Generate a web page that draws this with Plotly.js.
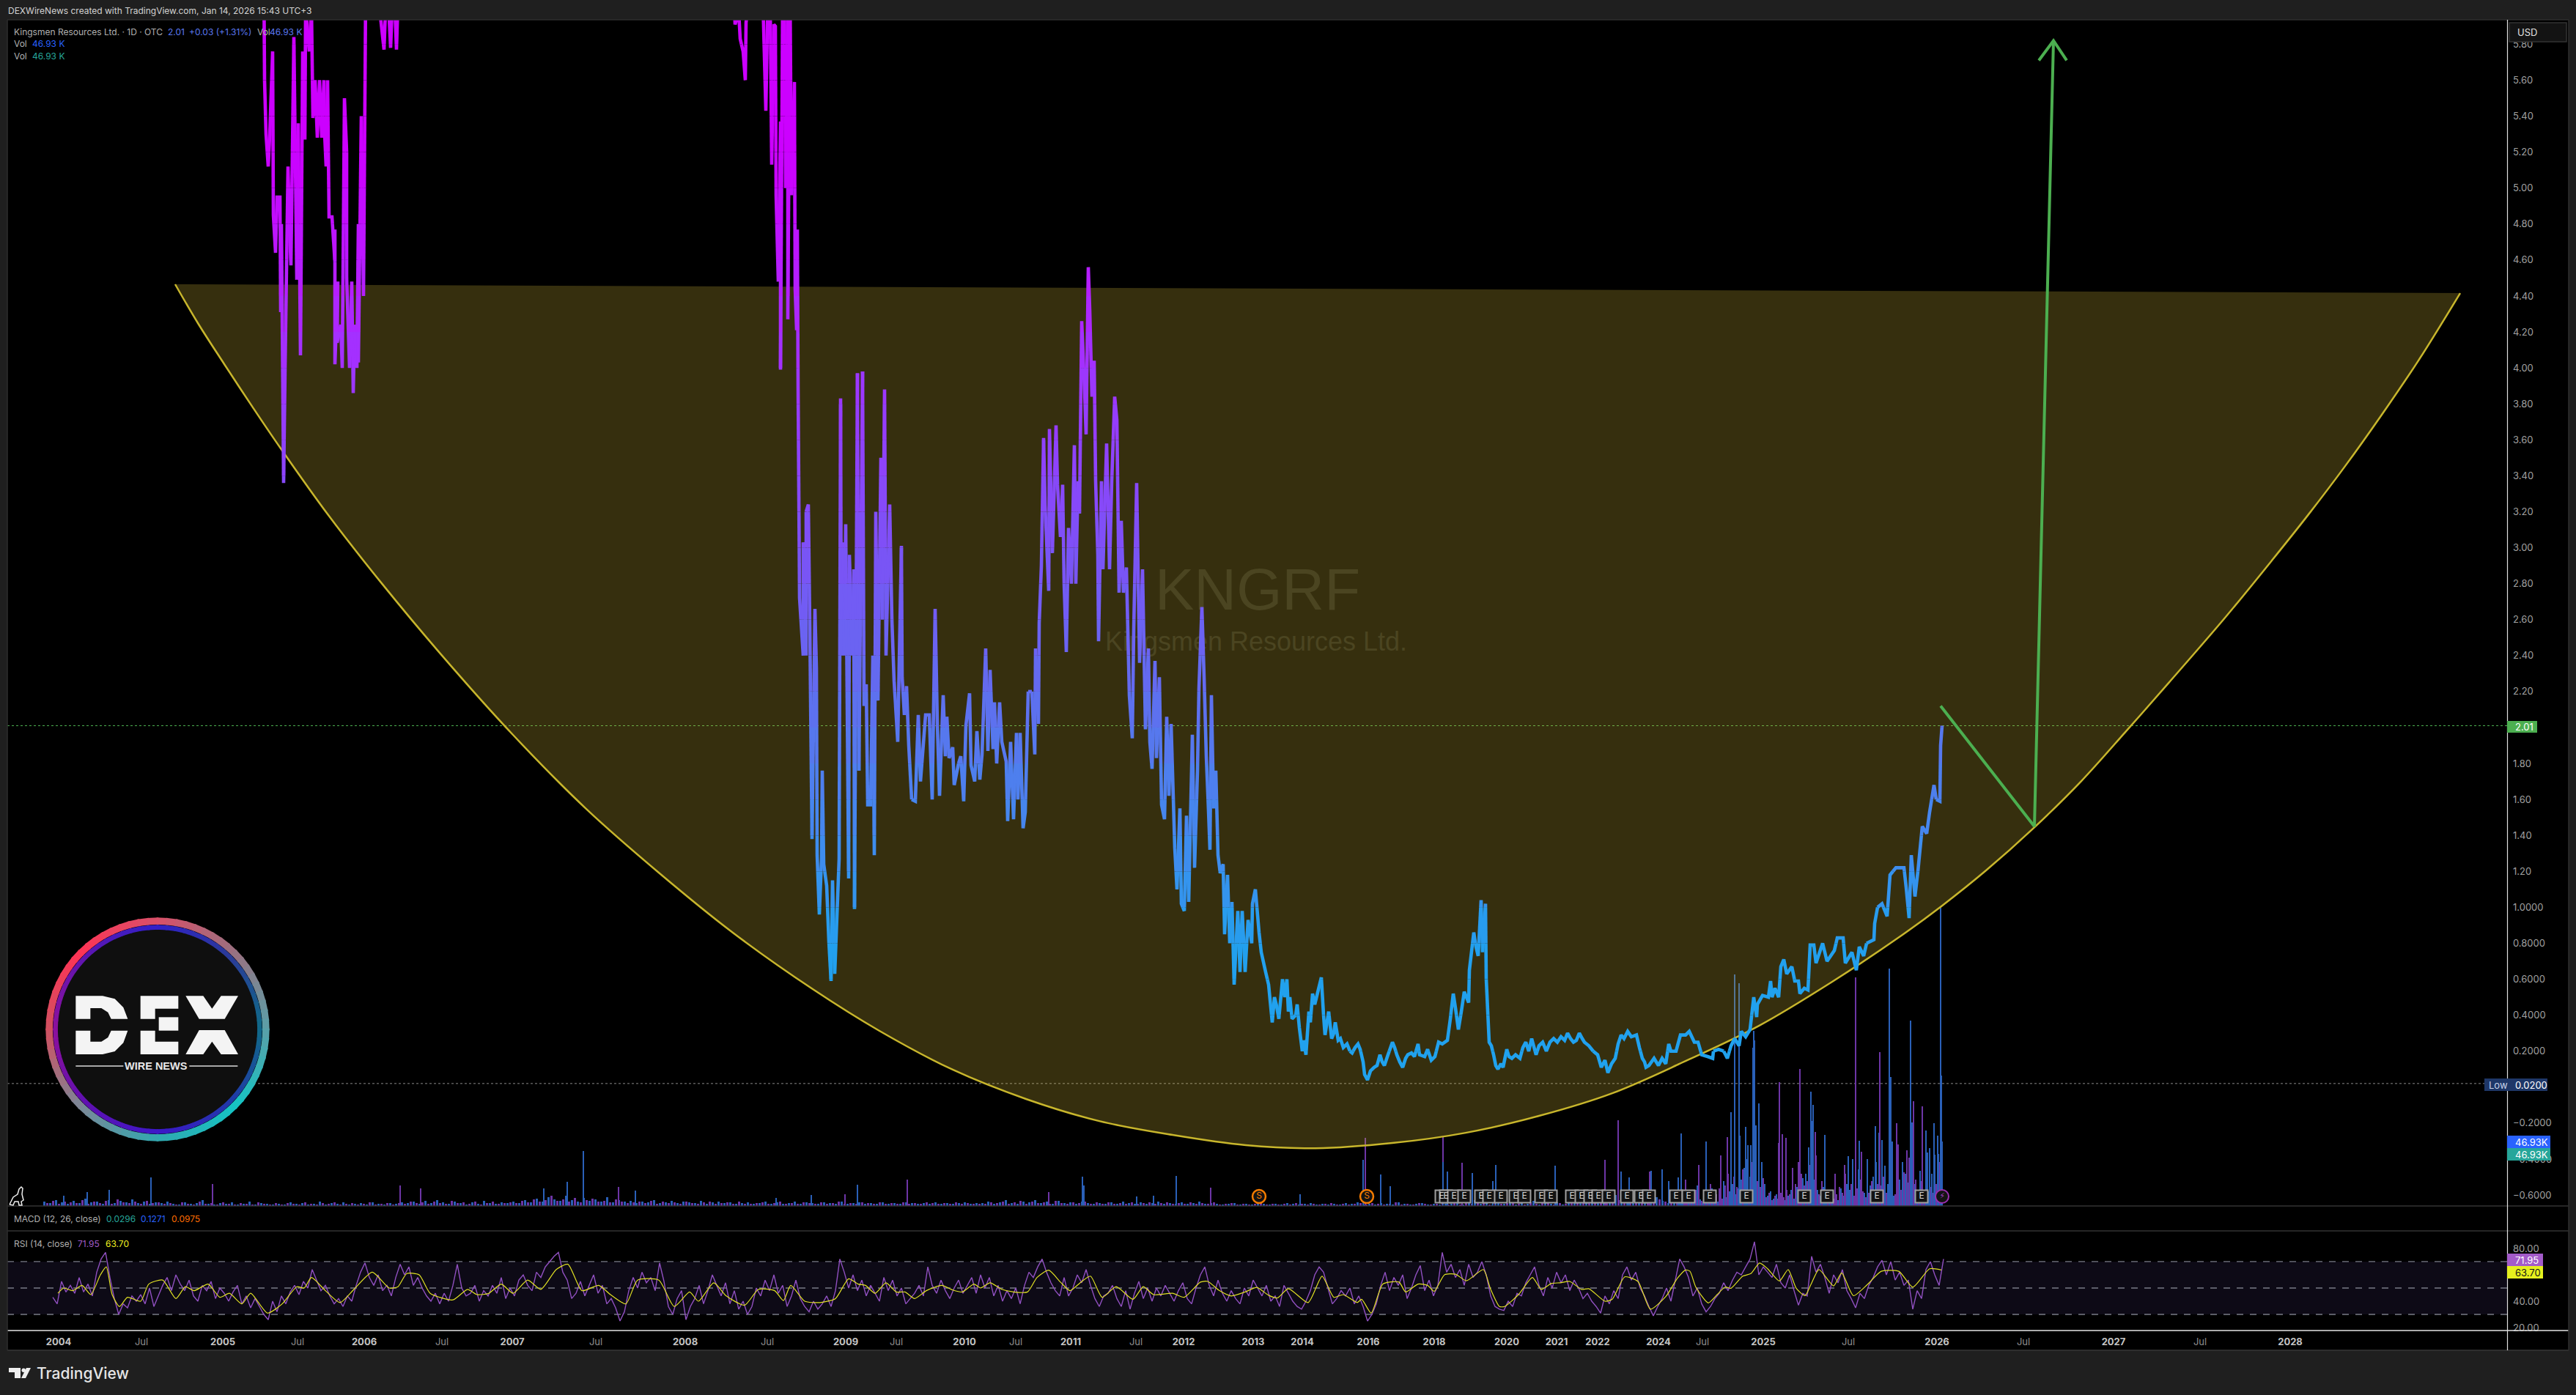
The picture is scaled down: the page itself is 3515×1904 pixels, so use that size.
<!DOCTYPE html>
<html><head><meta charset="utf-8"><script src="https://cdn.plot.ly/plotly-3.0.1.min.js"></script>
<style>html,body{margin:0;padding:0;background:#1f1f1f}#c{width:3515px;height:1904px}</style></head>
<body><div id="c"></div><script>
// ---------- values. Bar positions are ordinal session numbers on the compressed time axis.
const timeTickBars=[80,193,304,406,497,603,699,813,935,1047,1154,1223,1316,1386,1461,1550,1615,1710,1777,1867,1957,2056,2124,2180,2263,2323,2406,2522,2643,2761,2884,3002,3125];
const timeTickLabels=['2004','Jul','2005','Jul','2006','Jul','2007','Jul','2008','Jul','2009','Jul','2010','Jul','2011','Jul','2012','2013','2014','2016','2018','2020','2021','2022','2024','Jul','2025','Jul','2026','Jul','2027','Jul','2028'];
const priceTicks=[5.8,5.6,5.4,5.2,5,4.8,4.6,4.4,4.2,4,3.8,3.6,3.4,3.2,3,2.8,2.6,2.4,2.2,2,1.8,1.6,1.4,1.2,1,0.8,0.6,0.4,0.2,0,-0.2,-0.4,-0.6];
const priceTickLabels=['5.80','5.60','5.40','5.20','5.00','4.80','4.60','4.40','4.20','4.00','3.80','3.60','3.40','3.20','3.00','2.80','2.60','2.40','2.20','2.00','1.80','1.60','1.40','1.20','1.0000','0.8000','0.6000','0.4000','0.2000','0.0000','−0.2000','−0.4000','−0.6000'];
const rsiTicks=[80,60,40,20];
const lastClose=2.01, lowPrice=0.02;
const arcBars=[239,270,306,345,383,448,520,600,700,800,900,1000,1109,1200,1300,1400,1500,1600,1700,1795,1900,2000,2100,2200,2300,2400,2500,2590,2650,2710,2775,2840,2901,2960,3037,3100,3150,3200,3250,3300,3357];
const arcPrice=[4.465,4.249,4.021,3.78,3.552,3.181,2.806,2.415,1.959,1.547,1.189,0.859,0.545,0.313,0.097,-0.066,-0.189,-0.266,-0.323,-0.34,-0.311,-0.254,-0.16,-0.034,0.145,0.341,0.586,0.83,1.009,1.205,1.441,1.702,1.979,2.252,2.615,2.929,3.185,3.454,3.74,4.041,4.416];
const arrowBars=[2648,2776,2802], arrowPrice=[2.12,1.45,5.82];
const arrowHeadBars=[2782,2802,2820], arrowHeadPrice=[5.71,5.82,5.71];
const close2004=[[75,7],[355,7],[360,6.2],[361,5.6],[363,5.3],[366,5.12],[368,5.29],[372,5.76],[373,4.85],[376,4.64],[378,4.95],[382,4.95],[383,4.31],[384,4.8],[387,3.36],[389,4],[393,5.12],[395,4.79],[397,4.57],[401,5.84],[405,4.49],[407,5.36],[410,4.07],[413,5.76],[416,5.27],[417,6],[422,5.76],[425,6],[427,5.39],[430,5.6],[433,5.28],[436,5.6],[439,5.28],[442,5.6],[443,5.3],[445,5.12],[447,5.6],[449,4.84],[453,4.84],[457,4.59],[457,4.77],[457,4.02],[461,4.48],[460,4.14],[465,4.24],[467,4],[470,5.5],[473,5.2],[473,4.5],[477,4],[480,4.48],[482,3.86],[484,4.24],[487,4],[489,4.8],[489,4.03],[493,5.4],[496,4.4],[499,6.1],[510,6.3],[524,5.77],[528,6.2],[533,5.78],[537,6.2],[541,5.77],[545,6.3],[1000,6.3]];
const close2008=[[1003,5.91],[1008,5.98],[1010,5.83],[1014,5.76],[1017,5.6],[1018,5.92],[1020,6],[1040,6.2],[1045,5.43],[1048,6.1],[1051,6],[1053,5.13],[1056,5.91],[1058,5.9],[1059,4.96],[1062,4.48],[1065,5.37],[1065,3.99],[1068,6.1],[1070,6.2],[1072,5],[1075,6],[1075,4.27],[1078,6.1],[1080,4.96],[1084,5.59],[1085,4.44],[1087,4.21],[1088,4.77],[1089,3.9]];
const close2009=[[1091,2.72],[1096,2.4],[1096,3.03],[1100,2.4],[1100,3.2],[1103,3.24],[1105,2.57],[1108,1.38],[1112,2.66],[1114,2.33],[1115,1.29],[1118,0.96],[1121,1.27],[1122,1.76],[1124,1.24],[1128,1.12],[1131,0.81],[1134,0.59],[1136,1.15],[1139,0.63],[1142,0.95],[1145,1.27],[1147,3.83],[1148,2.4],[1151,3.03],[1152,2.4],[1154,3.13],[1158,1.16],[1159,2.96],[1163,2.4],[1165,2.88],[1166,0.99],[1170,3.97],[1172,1.76],[1177,3.98],[1179,2.12],[1182,2.24],[1184,1.57],[1188,1.57],[1191,2.4],[1193,1.29],[1195,3.2],[1198,2.15],[1202,3.5],[1204,2.6],[1207,3.88],[1209,2.4],[1214,3.24],[1217,2.6],[1220,2.26],[1225,1.92],[1230,3.01],[1231,2.28],[1234,2.07],[1237,2.23],[1240,1.9],[1244,1.6],[1249,1.59],[1253,2.07],[1256,1.7],[1263,2.07],[1268,2.07],[1272,1.6],[1276,2.66],[1279,2.02],[1282,1.62],[1287,2.18],[1290,1.84],[1292,2.06],[1295,1.83],[1300,1.89],[1302,1.68],[1308,1.8],[1311,1.84],[1315,1.59],[1318,2.01],[1323,2.19],[1325,1.79],[1330,1.7],[1333,1.98],[1337,1.71],[1340,1.85],[1345,2.44],[1348,1.87],[1351,2.32],[1355,1.88],[1357,2.14],[1360,1.8],[1364,2.14],[1367,1.92],[1373,1.81],[1375,1.48],[1379,1.92],[1383,1.49],[1387,1.97],[1389,1.6],[1392,1.97],[1396,1.44],[1399,1.53],[1403,2.2],[1408,2.2],[1412,1.85],[1413,2.44],[1417,2.02],[1418,2.58]];
const close2011=[[1421,2.9],[1424,3.61],[1426,3.24],[1431,2.76],[1432,3.66],[1436,2.97],[1441,3.68],[1443,3.35],[1447,3.06],[1450,3.35],[1452,2.8],[1455,2.42],[1458,3.11],[1462,2.8],[1466,3.57],[1468,2.8],[1471,3.37],[1473,3.19],[1476,4.26],[1480,3.87],[1482,3.63],[1485,4.56],[1487,4.32],[1490,3.84],[1493,4.04],[1495,3.37],[1498,2.96],[1499,2.48],[1503,3.37],[1505,2.88],[1510,3.58],[1514,2.88],[1517,3.37],[1521,3.84],[1524,3.71],[1527,2.75],[1530,3.15],[1533,2.75],[1537,2.89],[1541,2.18],[1545,1.94],[1547,2.54],[1551,3.36],[1555,2.36],[1559,2.88],[1563,1.99],[1567,2.44],[1569,1.92],[1572,1.77],[1576,2.37],[1578,1.83],[1582,2.28],[1585,1.57],[1589,1.49],[1592,2.06],[1595,1.62],[1598,2.02],[1603,1.33],[1606,1.1],[1610,1.55],[1612,1.02],[1616,0.98],[1619,1.51],[1622,1.03],[1627,1.96],[1630,1.22],[1634,1.76],[1636,2.22],[1640,2.67],[1643,2.28],[1646,1.84],[1649,1.54],[1651,1.32],[1653,2.18],[1656,1.55],[1659,1.76],[1662,1.29],[1665,1.19],[1669,1.24],[1671,0.85],[1675,1.18],[1678,0.8],[1681,1.03],[1684,0.57],[1689,0.98],[1692,0.64],[1695,0.98],[1699,0.64],[1703,0.93],[1708,0.8],[1709,1.02],[1713,1.1],[1718,0.86],[1721,0.75],[1727,0.64],[1731,0.57]];
const close2014=[[1736,0.36],[1739,0.5],[1742,0.45],[1745,0.38],[1750,0.6],[1753,0.5],[1756,0.6],[1758,0.42],[1760,0.5],[1763,0.38],[1768,0.4],[1770,0.46],[1773,0.33],[1777,0.2],[1779,0.26],[1782,0.18],[1786,0.42],[1788,0.36],[1791,0.52],[1794,0.46],[1797,0.51],[1803,0.61],[1806,0.4],[1808,0.29],[1813,0.42],[1817,0.27],[1820,0.3],[1822,0.36],[1826,0.26],[1829,0.27],[1833,0.22],[1838,0.24],[1842,0.2],[1845,0.19],[1849,0.22],[1853,0.24],[1856,0.21],[1860,0.14],[1862,0.07],[1866,0.04],[1870,0.09],[1875,0.11],[1879,0.12],[1883,0.18],[1886,0.14],[1889,0.12],[1894,0.18],[1900,0.25],[1903,0.22],[1906,0.18],[1910,0.14],[1914,0.11],[1918,0.16],[1921,0.18],[1926,0.19],[1930,0.17],[1935,0.24],[1937,0.18],[1944,0.17],[1948,0.21],[1953,0.15],[1958,0.17],[1963,0.25],[1968,0.24],[1975,0.26],[1979,0.38],[1983,0.52],[1986,0.44],[1990,0.32],[1994,0.42],[1998,0.53],[2004,0.47],[2005,0.65],[2011,0.86],[2014,0.78],[2017,0.73],[2021,1.04],[2023,0.75],[2027,1.02],[2028,0.6],[2032,0.25],[2035,0.23],[2038,0.18],[2041,0.12],[2044,0.1],[2048,0.13],[2051,0.11],[2056,0.21],[2059,0.17],[2063,0.16],[2068,0.18],[2074,0.16],[2078,0.22],[2082,0.25],[2086,0.2],[2090,0.27],[2096,0.18],[2100,0.23],[2105,0.25],[2110,0.2],[2115,0.25],[2120,0.27],[2125,0.25],[2130,0.28],[2135,0.26],[2139,0.3],[2143,0.27],[2147,0.25],[2151,0.26],[2155,0.3],[2159,0.27],[2162,0.25],[2168,0.23],[2174,0.2],[2180,0.18],[2185,0.11],[2190,0.15],[2194,0.08],[2199,0.13],[2204,0.16],[2208,0.24],[2212,0.29],[2216,0.27],[2221,0.31],[2226,0.28],[2233,0.29],[2237,0.22],[2241,0.16],[2244,0.14],[2246,0.11]];
const close2024=[[2250,0.12],[2257,0.16],[2263,0.12],[2268,0.16],[2273,0.13],[2277,0.24],[2280,0.2],[2287,0.2],[2293,0.29],[2300,0.29],[2305,0.31],[2312,0.25],[2317,0.25],[2322,0.18],[2330,0.17],[2337,0.16],[2338,0.2],[2345,0.21],[2352,0.2],[2357,0.16],[2362,0.23],[2367,0.27],[2373,0.23],[2376,0.31],[2382,0.28],[2388,0.32],[2393,0.5],[2397,0.39],[2398,0.46],[2405,0.51],[2413,0.5],[2416,0.59],[2418,0.5],[2422,0.55],[2427,0.5],[2430,0.67],[2434,0.71],[2438,0.63],[2445,0.67],[2449,0.59],[2454,0.59],[2456,0.52],[2462,0.55],[2467,0.54],[2470,0.79],[2475,0.79],[2478,0.69],[2487,0.8],[2493,0.7],[2503,0.76],[2507,0.83],[2515,0.83],[2518,0.69],[2527,0.75],[2533,0.65],[2537,0.78],[2543,0.73],[2547,0.8],[2557,0.82],[2558,0.91],[2562,1],[2568,1.02],[2575,0.95],[2579,1.18],[2587,1.22],[2598,1.22],[2601,1.11],[2605,0.94],[2608,1.29],[2613,1.06],[2617,1.2],[2623,1.45],[2629,1.41],[2633,1.53],[2639,1.68],[2642,1.6],[2647,1.59],[2648,1.9],[2650,2.01]];
const rsiClose=[43,38,55,47,52,46,58,47,53,44, 62,72,77,58,42,30,38,35,44,40, 45,38,50,36,44,52,58,48,60,53, 48,56,44,40,52,48,55,42,50,46, 40,47,52,38,44,35,42,36,30,26, 40,32,44,38,47,52,45,55,50,64, 56,48,52,44,38,42,36,44,40,52, 62,69,58,52,60,48,52,44,58,68, 60,66,52,58,50,44,40,46,38,46, 40,52,68,50,44,46,52,40,48,44, 52,46,58,42,50,44,56,60,52,48, 62,58,66,70,74,77,62,56,42,46, 55,44,52,60,46,52,38,42,35,25, 32,48,58,50,62,54,58,48,69,55, 36,30,42,48,26,36,42,52,38,48, 60,52,44,54,38,48,34,40,30,36, 50,44,56,48,60,46,52,36,44,56, 42,36,32,40,34,38,44,36,48,72, 62,50,60,48,56,44,52,46,40,58, 48,56,44,50,38,42,46,52,44,66, 52,46,56,48,42,50,56,46,52,58, 46,60,50,58,44,52,40,48,42,50, 38,52,62,58,66,72,62,54,48,44, 58,44,50,60,54,64,52,42,36,44, 46,52,42,36,48,34,46,55,42,50, 40,50,44,52,46,40,48,54,42,38, 50,60,66,52,44,56,46,40,48,42, 38,50,44,56,50,44,52,40,44,36, 52,46,40,36,34,40,48,60,66,62, 50,38,42,48,44,50,38,44,36,25, 30,38,52,62,48,58,52,60,42,50, 60,67,48,56,44,52,77,62,68,58, 64,52,68,58,62,70,60,44,36,34, 33,40,36,46,44,54,60,66,52,44, 58,50,62,54,60,48,56,50,42,46, 40,36,31,44,38,48,42,60,66,56, 62,50,44,36,29,36,42,50,40,56, 72,66,58,44,50,38,32,36,42,46, 54,48,56,62,60,66,72,85,60,66, 62,58,68,54,50,60,48,37,46,44, 74,62,68,58,46,60,54,64,48,42, 35,46,42,52,58,66,71,60,70,56, 62,52,56,34,48,42,64,70,60,52, 71.95];
const rsiFirstBar=72, rsiBarStep=6;
const rsiMa=[[79,46],[87,50],[99,48],[112,52],[124,45],[137,60],[145,66],[153,45],[163,36],[174,43],[192,40],[203,53],[222,56],[240,42],[253,51],[265,48],[284,53],[300,43],[313,46],[330,38],[342,46],[365,31],[385,38],[405,51],[415,50],[425,58],[444,48],[464,39],[483,49],[508,62],[531,50],[543,51],[555,61],[572,60],[587,46],[618,41],[638,49],[651,45],[667,46],[684,53],[700,46],[720,56],[738,49],[759,64],[775,68],[794,48],[817,52],[833,45],[854,38],[870,56],[899,56],[920,36],[941,47],[953,40],[974,54],[991,44],[1016,37],[1035,49],[1057,48],[1069,40.5],[1079,52],[1098,40],[1119,39],[1140,42],[1158,57],[1171,53],[1181,52],[1194,46],[1209,54],[1223,47],[1235,47],[1248,42],[1264,48],[1285,52],[1300,48.5],[1313,47],[1329,53],[1338,50],[1351,54],[1367,49],[1383,47],[1402,47],[1415,58],[1431,63.5],[1447,54.5],[1460,48],[1475,54.5],[1488,59],[1504,43],[1523,51],[1546,41.5],[1560,51],[1574,45],[1600,46],[1616,43],[1638,54.5],[1648,55],[1664,48],[1680,44],[1699,47],[1715,50.5],[1731,44.5],[1743,42.5],[1758,49.5],[1785,39],[1804,59],[1820,43],[1833,45],[1852,39],[1858,41.5],[1871,31],[1887,53],[1909,54.5],[1918,47],[1935,53],[1948,52],[1957,47.5],[1971,60],[1986,60.5],[2001,55.5],[2024,64],[2034,49],[2046,36],[2053,36],[2072,45],[2091,58],[2103,49],[2117,53.5],[2129,54],[2142,55],[2158,49],[2168,49.5],[2190,40],[2200,41.5],[2217,58.5],[2235,55],[2252,34],[2273,43.5],[2289,57.5],[2300,63.7],[2306,62.7],[2314,50.7],[2331,38.7],[2343,45],[2354,50.7],[2362,49.8],[2378,59],[2389,60.9],[2401,68.9],[2412,64.6],[2428,55.3],[2440,64],[2451,49.8],[2463,44.2],[2471,52.6],[2482,64],[2502,51.6],[2513,61.4],[2529,44.2],[2548,52.6],[2567,62.7],[2591,62.7],[2610,50.7],[2633,64.6],[2649,63.7]];
const volFirstBar=60, volBarStep=8;
const volBlueLow=[6,4,8,5,3,7,4,10,5,6,3,8,4,7,5,9,4,6,3,5, 4,6,3,2,5,3,4,8,3,2,4,3,5,2,3,6,2,4,3,2, 3,2,5,3,4,2,3,6,2,4,3,5,2,3,4,2,5,3,2,4, 3,5,4,6,3,7,4,8,5,3,6,4,2,5,3,7,4,3,5,4, 6,4,8,5,10,6,12,9,7,14,8,6,11,7,9,6,12,5,8,6, 7,4,6,5,8,4,5,7,4,6,5,4,7,3,5,6,4,5,3,4, 5,3,4,6,3,5,3,4,6,3,5,4,3,5,4,3,6,3,4,5, 3,4,3,5,3,4,3,5,4,3,4,3,5,3,4,3,4,5,3,4, 4,6,3,5,8,4,3,6,5,8,4,6,3,7,4,5,3,6,4,3, 4,3,5,3,6,4,3,5,3,4,6,3,4,3,5,3,4,6,3,4, 3,2,3,4,2,3,2,4,3,2,3,2,4,3,2,3,4,2,3,2, 3,2,4,3,5,2,3,2,4,3,2,5,3,2,3,4,2,3,2,3, 3,5,2,4,8,3,5,2,6,3,4,2,5,3,7,2,4,3,5,2, 6,4,9,5,12,6,4,8,15,5,7,4,10,6,5,12,7,4,9,6];
const volPurpleLow=[4,7,3,6,5,4,8,3,6,4,7,3,9,5,4,6,3,7,4,5, 3,4,2,5,3,2,6,3,4,2,5,3,2,4,3,2,5,3,2,4, 2,4,3,2,5,3,2,4,3,5,2,3,4,2,3,5,2,3,4,2, 4,3,6,4,5,3,6,4,3,7,4,5,3,6,2,4,6,3,4,5, 4,7,5,9,6,8,14,7,9,6,11,5,8,10,6,7,5,9,6,4, 5,6,4,7,3,6,4,5,3,6,4,3,5,6,3,4,5,3,6,3, 3,4,5,3,4,6,3,4,3,5,4,3,5,3,4,6,3,4,3,5, 4,3,5,3,4,3,5,3,4,3,5,4,3,4,3,5,3,4,3,3, 3,5,4,6,3,5,7,3,6,4,5,3,7,4,3,5,4,6,3,5, 3,5,3,4,3,5,3,4,5,3,4,5,3,4,3,5,3,4,3,5, 2,3,4,2,3,2,3,4,2,3,2,3,2,4,3,2,3,2,3,4, 2,3,2,3,4,2,4,3,2,3,5,2,3,2,4,3,2,3,4,2, 4,2,5,3,4,6,2,5,3,4,8,3,2,5,3,4,6,2,4,3, 4,8,5,7,4,10,6,5,8,6,14,5,8,6,4,9,6,12,5,8];
const denseFirstBar=2292, denseBarStep=4;
const volBlueDense=[8,14,22,10,6,12,28,9,5,14,8,24,11,6,18,34,12,20,30,16,24,36,52,64,40,90,110,140,60,30,14,20,10,16,6,12,8,14,22,10,26,16,38,44,80,60,36,22,14,26,18,12,20,10,8,24,14,30,22,18,40,50,36,18,10,28,40,60,100,90,55,30,20,14,24,36,60,44,32,18,30,22,48,14,30,20,44,70,96,64];
const volPurpleDense=[6,10,18,8,12,22,14,7,18,10,30,8,16,24,10,28,44,18,40,26,30,50,36,22,60,48,34,26,38,12,18,8,14,10,18,12,22,16,52,30,60,44,28,34,56,24,36,16,34,20,14,22,10,16,26,18,44,16,30,14,24,36,20,12,18,34,22,30,28,40,18,22,34,16,30,22,46,36,22,14,36,18,34,22,40,26,18,30,60,40];
const volBlueSpikes=[[87,14],[119,19],[149,22],[206,39],[742,24],[774,33],[796,75],[867,21],[1059,11],[1107,15],[1170,29],[1477,40],[1479,28],[1605,41],[1551,13],[1574,14],[1774,16],[1860,63],[1884,43],[1897,27],[1975,47],[1969,60],[2009,45],[2041,56],[2037,34],[2122,55],[2212,47],[2223,39],[2253,48],[2268,50],[2277,34],[2290,39],[2294,99],[2328,88],[2362,128],[2367,316],[2373,304],[2374,96],[2382,108],[2385,83],[2389,83],[2392,216],[2393,239],[2394,226],[2471,156],[2472,116],[2474,138],[2490,97],[2522,68],[2528,64],[2537,89],[2548,64],[2559,109],[2578,324],[2580,176],[2582,88],[2607,253],[2609,114],[2639,113],[2628,103],[2648,408],[2649,178],[2650,88],[2645,71],[2633,79],[2630,73]];
const volPurpleSpikes=[[290,30],[546,28],[574,24],[844,26],[1153,16],[1238,36],[1431,19],[1652,25],[1863,93],[1969,95],[1995,59],[2190,63],[2208,117],[2251,47],[2300,36],[2318,56],[2348,69],[2357,94],[2394,119],[2427,86],[2428,169],[2432,98],[2437,93],[2456,187],[2477,101],[2478,69],[2504,44],[2517,56],[2532,312],[2540,74],[2565,210],[2588,113],[2590,84],[2602,76],[2605,66],[2611,143],[2623,136],[2647,48]];
const earningsBars=[1967,1973,1984,1998,2021,2032,2048,2068,2080,2103,2116,2145,2158,2170,2181,2195,2220,2239,2250,2287,2304,2333,2383,2462,2493,2561,2622];
const splitBars=[1718,1865];
const dividendBars=[2650];

// ---------- helpers
const W=3515,H=1904;
const fx=x=>x/W, fy=y=>1-y/H;
const priceBandStops=[[-1,'#1ea4ee'],[0.8,'#22a0ee'],[1.2,'#3a90ee'],[2,'#5a74ee'],[3,'#7c52f6'],[4,'#a034ff'],[4.5,'#b51eff'],[5.2,'#cc00ff'],[7,'#cc00ff']];
function hex(c){return [1,3,5].map(i=>parseInt(c.substr(i,2),16));}
function lerpStops(stops,v){for(let i=1;i<stops.length;i++){if(v<=stops[i][0]){const a=stops[i-1],b=stops[i],t=(v-a[0])/(b[0]-a[0]),A=hex(a[1]),B=hex(b[1]);return 'rgb('+A.map((u,k)=>Math.round(u+(B[k]-u)*t)).join(',')+')';}}return stops[stops.length-1][1];}
const bandH=0.2;
const allClose=[...close2004,...close2008,...close2009,...close2011,...close2014,...close2024];
const bands={};
function addPiece(k,x0,y0,x1,y1){const b=bands[k]||(bands[k]={x:[],y:[]});const n=b.x.length;if(n&&b.x[n-1]===x0&&b.y[n-1]===y0){b.x.push(x1);b.y.push(y1);}else{if(n){b.x.push(null);b.y.push(null);}b.x.push(x0,x1);b.y.push(y0,y1);}}
for(let i=1;i<allClose.length;i++){const [x0,y0]=allClose[i-1],[x1,y1]=allClose[i];const ts=[0];const lo=Math.min(y0,y1),hi=Math.max(y0,y1);for(let e=Math.ceil(lo/bandH)*bandH;e<hi;e+=bandH){if(e>lo)ts.push((e-y0)/(y1-y0));}ts.push(1);ts.sort((a,b)=>a-b);for(let j=1;j<ts.length;j++){const a=ts[j-1],c=ts[j];const xa=x0+(x1-x0)*a,ya=y0+(y1-y0)*a,xc=x0+(x1-x0)*c,yc=y0+(y1-y0)*c;addPiece(Math.floor(((ya+yc)/2)/bandH),xa,ya,xc,yc);}}
const lowX=(arr,off)=>arr.map((_,i)=>volFirstBar+off+i*volBarStep);
const dX=(arr,off)=>arr.map((_,i)=>denseFirstBar+off+i*denseBarStep);
const BLUE='#2a60b8',PURP='#6d35a6';
const bar=(x,y,c,w)=>({type:'bar',x,y,width:w,marker:{color:c,line:{width:0}},yaxis:'y',hoverinfo:'skip',showlegend:false});
const traces=[
 bar(lowX(volPurpleLow,4),volPurpleLow,PURP,3),
 bar(lowX(volBlueLow,0),volBlueLow,BLUE,3),
 bar(dX(volPurpleDense,2),volPurpleDense,PURP,2),
 bar(dX(volBlueDense,0),volBlueDense,BLUE,2),
 bar(volPurpleSpikes.map(d=>d[0]),volPurpleSpikes.map(d=>d[1]),PURP,1.3),
 bar(volBlueSpikes.map(d=>d[0]),volBlueSpikes.map(d=>d[1]),BLUE,1.3),
 {type:'scatter',mode:'markers+text',x:earningsBars,y:earningsBars.map(()=>13),text:earningsBars.map(()=>'E'),textposition:'middle center',textfont:{family:'Inter',size:12,color:'#d6d6d6'},marker:{symbol:'square',size:17,color:'#131313',line:{color:'#a0a0a0',width:2}},yaxis:'y',hoverinfo:'skip',cliponaxis:false},
 {type:'scatter',mode:'markers+text',x:splitBars,y:splitBars.map(()=>13),text:splitBars.map(()=>'S'),textposition:'middle center',textfont:{family:'Inter',size:12,color:'#f57c00'},marker:{symbol:'circle',size:18,color:'#131313',line:{color:'#f57c00',width:2.5}},yaxis:'y',hoverinfo:'skip'},
 {type:'scatter',mode:'markers+text',x:dividendBars,y:dividendBars.map(()=>13),text:dividendBars.map(()=>'⚡'),textposition:'middle center',textfont:{family:'DejaVu Sans',size:11,color:'#a040c0'},marker:{symbol:'circle',size:18,color:'#131313',line:{color:'#9c30b0',width:2}},yaxis:'y',hoverinfo:'skip'},
 {type:'scatter',mode:'lines',x:arcBars,y:arcPrice,yaxis:'y2',fill:'toself',fillcolor:'rgba(204,176,54,0.265)',line:{color:'#c8b62c',width:2.5,shape:'spline',smoothing:1},hoverinfo:'skip'},
 {type:'scatter',mode:'text',x:[1716],y:[2.737],text:['KNGRF'],textposition:'middle center',textfont:{family:'Liberation Sans',size:80,color:'#4b4521'},yaxis:'y2',hoverinfo:'skip'},
 {type:'scatter',mode:'text',x:[1714],y:[2.464],text:['Kingsmen Resources Ltd.'],textposition:'middle center',textfont:{family:'Liberation Sans',size:36,color:'#4b4521'},yaxis:'y2',hoverinfo:'skip'},
];
Object.keys(bands).map(Number).sort((a,b)=>a-b).forEach(k=>{traces.push({type:'scatter',mode:'lines',x:bands[k].x,y:bands[k].y,yaxis:'y2',connectgaps:false,line:{color:lerpStops(priceBandStops,(k+0.5)*bandH),width:4.6,simplify:false},hoverinfo:'skip'});});
traces.push(
 {type:'scatter',mode:'lines',x:arrowBars,y:arrowPrice,yaxis:'y2',line:{color:'#4caf50',width:4,simplify:false},hoverinfo:'skip'},
 {type:'scatter',mode:'lines',x:arrowHeadBars,y:arrowHeadPrice,yaxis:'y2',line:{color:'#4caf50',width:4,simplify:false},hoverinfo:'skip'},
 {type:'scatter',mode:'lines',x:rsiClose.map((_,i)=>rsiFirstBar+i*rsiBarStep),y:rsiClose,yaxis:'y3',line:{color:'#9050c0',width:1.4,simplify:false},hoverinfo:'skip'},
 {type:'scatter',mode:'lines',x:rsiMa.map(d=>d[0]),y:rsiMa.map(d=>d[1]),yaxis:'y3',line:{color:'#e0e024',width:1.2,shape:'spline',smoothing:0.6},hoverinfo:'skip'}
);

// ---------- chrome
const shapes=[];
const rect=(x0,y0,x1,y1,fill,layer,line)=>shapes.push({type:'rect',xref:'paper',yref:'paper',x0:fx(x0),x1:fx(x1),y0:fy(y0),y1:fy(y1),fillcolor:fill,line:line||{width:0},layer:layer||'above'});
const hline=(x0,x1,y,c,w)=>shapes.push({type:'line',xref:'paper',yref:'paper',x0:fx(x0),x1:fx(x1),y0:fy(y),y1:fy(y),line:{color:c,width:w||1},layer:'above'});
const vline=(x,y0,y1,c,w)=>shapes.push({type:'line',xref:'paper',yref:'paper',x0:fx(x),x1:fx(x),y0:fy(y0),y1:fy(y1),line:{color:c,width:w||1},layer:'above'});
const poly=(pts,fill,line)=>shapes.push({type:'path',xref:'paper',yref:'paper',path:'M'+pts.map(p=>fx(p[0]).toFixed(6)+','+fy(p[1]).toFixed(6)).join(' L')+(fill?' Z':''),fillcolor:fill||'rgba(0,0,0,0)',line:line||{width:0},layer:'above'});
rect(10,27,3505,1843,'#000','below');
hline(10,3505,1646,'#333',1.5);hline(10,3505,1680,'#333',1.5);hline(10,3505,1816,'#e4e4e4',1.5);
hline(10,3505,27,'#2e2e2e',1.5);hline(10,3505,1843,'#2e2e2e',2);vline(10,27,1843,'#2e2e2e',1.5);vline(3505,27,1843,'#2e2e2e',1.5);
vline(3421.5,27,1843,'#e0e0e0',1.2);
shapes.push({type:'rect',xref:'x',yref:'y3',x0:10,x1:3421,y0:30,y1:70,fillcolor:'#0d0a16',line:{width:0},layer:'below'});
[70,50,30].forEach(v=>shapes.push({type:'line',xref:'x',yref:'y3',x0:10,x1:3421,y0:v,y1:v,line:{color:'#787b86',width:1.3,dash:'dash'},layer:'below'}));
shapes.push({type:'line',xref:'x',yref:'y2',x0:10,x1:3421,y0:lastClose,y1:lastClose,line:{color:'#4caf50',width:1,dash:'dot'},layer:'below'});
shapes.push({type:'line',xref:'x',yref:'y2',x0:10,x1:3390,y0:lowPrice,y1:lowPrice,line:{color:'#8a8a8a',width:1,dash:'dot'},layer:'below'});
const cx=215,cy=1405;
const outerStops=[[0,'#d85068'],[45,'#9a7080'],[90,'#5aa0a8'],[135,'#14c4c4'],[180,'#30a8b0'],[225,'#7a8898'],[270,'#d05060'],[315,'#ff3355'],[360,'#d85068']];
const innerStops=[[0,'#3020c8'],[45,'#2a3a98'],[90,'#106a88'],[135,'#2038a8'],[180,'#3c18c8'],[225,'#6010b0'],[270,'#8c109c'],[315,'#5f15b0'],[360,'#3020c8']];
shapes.push({type:'circle',xref:'paper',yref:'paper',x0:fx(cx-137),x1:fx(cx+137),y0:fy(cy+137),y1:fy(cy-137),fillcolor:'#0f0f0f',line:{width:0},layer:'above'});
const ring=(r,w,st)=>{for(let a=0;a<360;a+=5){const p=[];for(const d of [a-0.6,a+5.6]){const t=d*Math.PI/180;p.push([cx+r*Math.sin(t),cy-r*Math.cos(t)]);}poly(p,null,{color:lerpStops(st,a+2.5),width:w});}};
ring(148,9.5,outerStops);ring(139.5,6.5,innerStops);
const z=(a)=>a.map(p=>[40+p[0]/3,1230+p[1]/3]);
const WHT='#f4f4f4';
poly(z([[190,388],[300,388],[350,400],[385,435],[403,482],[335,482],[322,455],[295,438],[250,438],[250,482],[190,482]]),WHT);
poly(z([[190,530],[250,530],[250,575],[295,575],[322,558],[335,530],[403,530],[385,580],[350,615],[300,627],[190,627]]),WHT);
poly(z([[455,388],[610,388],[610,440],[515,440],[515,482],[455,482]]),WHT);
poly(z([[530,475],[610,475],[610,530],[530,530]]),WHT);
poly(z([[455,530],[515,530],[515,575],[610,575],[610,627],[455,627]]),WHT);
poly(z([[640,388],[712,388],[748,440],[785,388],[855,388],[800,482],[695,482]]),WHT);
poly(z([[695,528],[800,528],[855,627],[785,627],[748,575],[712,627],[640,627]]),WHT);
poly(z([[190,675],[385,675]]),null,{color:'#ddd',width:1.6});
poly(z([[655,675],[853,675]]),null,{color:'#ddd',width:1.6});
poly([[13,1644],[18,1634],[24,1630],[26,1623],[29,1620],[31,1622],[30,1630],[32,1638],[29,1640],[30,1645],[26,1645],[25,1640],[20,1640],[18,1645],[13,1644]],null,{color:'#eee',width:1.5});
poly([[12,1867],[28,1867],[28,1881],[20,1881],[20,1873],[12,1873]],'#eee');
shapes.push({type:'circle',xref:'paper',yref:'paper',x0:fx(29.5),x1:fx(35),y0:fy(1873),y1:fy(1867.5),fillcolor:'#eee',line:{width:0},layer:'above'});
poly([[36,1867],[42,1867],[35,1881],[29,1881]],'#eee');
rect(3424,31,3502,57,'#131313','above',{color:'#333',width:1.5});
rect(3421,984,3462,1000,'#4caf50');
rect(3390,1472,3476,1489,'#1e3768');
rect(3421,1550,3480,1567,'#2962ff');
rect(3421,1567,3480,1584,'#26a69a');
rect(3421,1711,3470,1728,'#a35bc9');
rect(3421,1728,3470,1745,'#e6f01e');

const annotations=[];
const T=(text,x,y,size,color,opts)=>annotations.push(Object.assign({text,xref:'paper',yref:'paper',x:fx(x),y:fy(y),xanchor:'left',yanchor:'middle',showarrow:false,font:{family:'Inter',size,color},borderpad:0},opts||{}));
T('DEXWireNews created with TradingView.com, Jan 14, 2026 15:43 UTC+3',10,15,12,'#d2d2d2');
T('Kingsmen Resources Ltd. · 1D · OTC',18,43,12,'#b0b0b0');
T('2.01',228,43,12,'#5a78f0');T('+0.03 (+1.31%)',257,43,12,'#5a78f0');
T('Vol',350,43,12,'#b0b0b0');T('46.93 K',367,43,12,'#5a78f0');
T('Vol',18,59,12,'#b0b0b0');T('46.93 K',43,59,12,'#2962ff');
T('Vol',18,77,12,'#b0b0b0');T('46.93 K',43,77,12,'#26a69a');
T('MACD (12, 26, close)',18,1663,12,'#b0b0b0');T('0.0296',144,1663,12,'#26a69a');T('0.1271',191,1663,12,'#2962ff');T('0.0975',233,1663,12,'#ff6d00');
T('RSI (14, close)',18,1697,12,'#b0b0b0');T('71.95',105,1697,12,'#a35bc9');T('63.70',143,1697,12,'#f0f020');
T('<b>WIRE NEWS</b>',213,1455,14,'#e8e8e8',{xanchor:'center',font:{family:'Liberation Sans',size:14.5,color:'#e8e8e8'}});
T('TradingView',49,1874,21,'#e6e6e6',{font:{family:'Inter',size:21,color:'#e6e6e6',weight:500}});
T('USD',3434,44,13,'#e0e0e0');
T('2.01',3431,992,13,'#ffffff');
T('Low',3395,1481,13,'#c8d4ea');T('0.0200',3431,1481,13,'#ffffff');
T('46.93K',3431,1559,13,'#ffffff');T('46.93K',3431,1576,13,'#ffffff');
T('71.95',3431,1720,13,'#ffffff');T('63.70',3431,1737,13,'#141414');

const xLabels=timeTickLabels.map(t=>t==='Jul'?'<span style="color:#8f8f8f">Jul</span>':'<b>'+t+'</b>');
const layout={width:W,height:H,autosize:false,margin:{l:0,r:0,t:0,b:0},paper_bgcolor:'#1f1f1f',plot_bgcolor:'rgba(0,0,0,0)',showlegend:false,hovermode:false,barmode:'overlay',bargap:0,
 xaxis:{domain:[fx(10),fx(3421)],range:[10,3421],anchor:'y3',showgrid:false,zeroline:false,showline:false,ticks:'',tickmode:'array',tickvals:timeTickBars,ticktext:xLabels,tickangle:0,tickfont:{family:'Inter',size:13,color:'#c4c4c4'},ticklabelstandoff:6},
 yaxis:{domain:[fy(1646),fy(27)],range:[0,1619],anchor:'x',visible:false,fixedrange:true},
 yaxis2:{overlaying:'y',side:'right',anchor:'x',range:[-0.661,5.936],showgrid:false,zeroline:false,showline:false,ticks:'',tickmode:'array',tickvals:priceTicks,ticktext:priceTickLabels,tickfont:{family:'Inter',size:13,color:'#a0a0a0'},ticklabelstandoff:7},
 yaxis3:{domain:[fy(1816),fy(1680)],side:'right',anchor:'x',range:[17.8,93.3],showgrid:false,zeroline:false,showline:false,ticks:'',tickmode:'array',tickvals:rsiTicks,ticktext:rsiTicks.map(v=>v.toFixed(2)),tickfont:{family:'Inter',size:13,color:'#a0a0a0'},ticklabelstandoff:7},
 shapes,annotations};
Plotly.newPlot('c',traces,layout,{displayModeBar:false,staticPlot:true});
</script></body></html>
